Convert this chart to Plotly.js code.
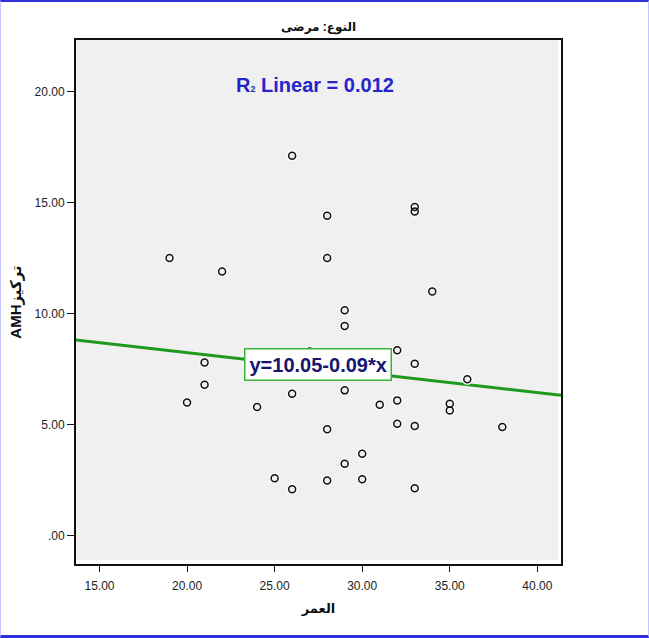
<!DOCTYPE html>
<html>
<head>
<meta charset="utf-8">
<script src="https://cdn.plot.ly/plotly-3.0.1.min.js"></script>
<style>
  html, body { margin: 0; padding: 0; background: #ffffff; }
  #wrap {
    width: 647px; height: 633px;
    border-top: 2px solid #2f2fd8;
    border-bottom: 3px solid #2f2fd8;
    border-left: 1px solid #c4c4ff;
    border-right: 1px solid #c4c4ff;
    background: #ffffff;
  }
  #chart { width: 647px; height: 633px; }
</style>
</head>
<body>
<div id="wrap"><div id="chart"></div></div>
<script>
// ---- data ----
const ages = [19, 22, 26, 28, 28, 33, 33, 34, 29, 29, 32, 33, 21, 21, 20, 24, 26, 29, 31, 32, 35, 35, 36, 38, 28, 32, 33, 30, 29, 25, 26, 28, 30, 33, 27];
const amh  = [12.5, 11.9, 17.1, 14.4, 12.5, 14.8, 14.6, 11.0, 10.15, 9.45, 8.35, 7.75, 7.8, 6.8, 6.0, 5.8, 6.4, 6.55, 5.9, 6.1, 5.95, 5.65, 7.05, 4.9, 4.8, 5.05, 4.95, 3.7, 3.25, 2.6, 2.1, 2.5, 2.55, 2.15, 8.3];

const fitIntercept = 10.05;
const fitSlope = -0.09;
const rSquared = "0.012";

const xTickVals = [15, 20, 25, 30, 35, 40];
const xTickText = ["15.00", "20.00", "25.00", "30.00", "35.00", "40.00"];
const yTickVals = [0, 5, 10, 15, 20];
const yTickText = [".00", "5.00", "10.00", "15.00", "20.00"];

const chartTitle = "النوع: مرضى";
const xTitle = "العمر";
const yTitle = "AMHتركيز";

// ---- axes ----
const xRange = [13.66, 41.35];
const yRange = [-1.26, 22.31];

const lineX = xRange.slice();
const lineY = lineX.map(v => fitIntercept + fitSlope * v);

const baseFont = "Arial, 'Liberation Sans', 'DejaVu Sans', sans-serif";

const traces = [
  { // regression line
    x: lineX, y: lineY, type: "scatter", mode: "lines",
    line: { color: "#1e9a1e", width: 3 },
    hoverinfo: "skip", showlegend: false
  },
  { // white halo behind points
    x: ages, y: amh, type: "scatter", mode: "markers",
    marker: { symbol: "circle-open", size: 9, color: "#ffffff", line: { color: "#ffffff", width: 2 } },
    hoverinfo: "skip", showlegend: false
  },
  { // points
    x: ages, y: amh, type: "scatter", mode: "markers",
    marker: { symbol: "circle-open", size: 7, color: "#111111", line: { color: "#111111", width: 1.5 } },
    showlegend: false
  }
];

const layout = {
  width: 647, height: 633,
  margin: { l: 75, r: 87, t: 38, b: 71 },
  paper_bgcolor: "#ffffff",
  plot_bgcolor: "#ffffff",
  font: { family: baseFont, color: "#222222", size: 12 },
  title: {
    text: chartTitle,
    font: { family: "Arial, 'DejaVu Sans', sans-serif", size: 12, weight: "bold", color: "#111111" },
    xref: "paper", x: 0.5, xanchor: "center",
    yref: "container", y: 1 - 25 / 633, yanchor: "middle"
  },
  xaxis: {
    range: xRange, autorange: false,
    tickmode: "array", tickvals: xTickVals, ticktext: xTickText,
    ticks: "outside", ticklen: 6, tickwidth: 1, tickcolor: "#111111",
    ticklabelstandoff: 4,
    tickfont: { size: 12, color: "#222222" },
    showgrid: false, zeroline: false,
    showline: true, mirror: true, linecolor: "#111111", linewidth: 2,
    title: { text: xTitle, standoff: 11, font: { size: 13, weight: "bold", color: "#111111", family: "Arial, 'DejaVu Sans', sans-serif" } }
  },
  yaxis: {
    range: yRange, autorange: false,
    tickmode: "array", tickvals: yTickVals, ticktext: yTickText,
    ticks: "outside", ticklen: 7, tickwidth: 1, tickcolor: "#111111",
    tickfont: { size: 12, color: "#222222" },
    showgrid: false, zeroline: false,
    showline: true, mirror: true, linecolor: "#111111", linewidth: 2,
    title: { text: yTitle, standoff: 9, font: { size: 15, weight: "bold", color: "#111111", family: "Arial, 'DejaVu Sans', sans-serif" } }
  },
  shapes: [
    { type: "rect", xref: "paper", yref: "paper", layer: "below",
      x0: 0, x1: 1 - 3 / 485, y0: 4 / 524, y1: 1,
      fillcolor: "#f0f0f0", line: { width: 0 } }
  ],
  annotations: [
    { xref: "x", yref: "y", x: 27.3, y: 20.27, showarrow: false,
      text: "R<span style='font-size:9px'>2</span> Linear = " + rSquared,
      font: { family: baseFont, size: 20, weight: "bold", color: "#2626c8" } },
    { xref: "x", yref: "y", x: 27.5, y: 7.72, showarrow: false,
      text: "y=" + fitIntercept.toFixed(2) + (fitSlope).toFixed(2) + "*x",
      font: { family: baseFont, size: 20, weight: "bold", color: "#16166e" },
      bgcolor: "#ffffff", bordercolor: "#3cb43c", borderwidth: 1.5, borderpad: 4 }
  ]
};

Plotly.newPlot("chart", traces, layout, { displayModeBar: false, staticPlot: true });
</script>
</body>
</html>
